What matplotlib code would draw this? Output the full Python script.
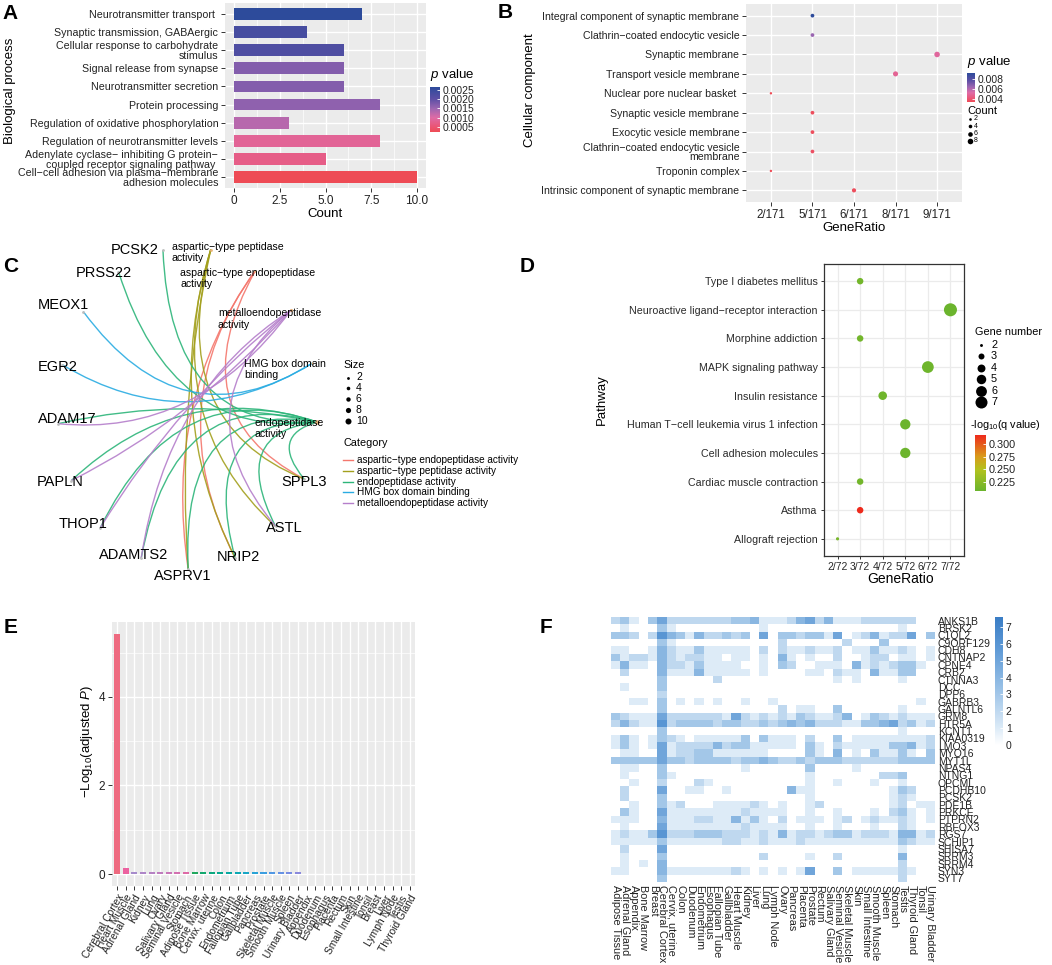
import numpy as np
import matplotlib
matplotlib.use('Agg')
import matplotlib as mpl
import matplotlib.pyplot as plt
from matplotlib.colors import LinearSegmentedColormap, Normalize
from matplotlib.path import Path
from matplotlib.patches import PathPatch

plt.rcParams['font.family'] = ['Liberation Sans', 'DejaVu Sans']
plt.rcParams['mathtext.fontset'] = 'custom'
plt.rcParams['mathtext.rm'] = 'Liberation Sans'
plt.rcParams['mathtext.it'] = 'Liberation Sans:italic'
plt.rcParams['mathtext.bf'] = 'Liberation Sans:bold'

# ======================= DATA =======================
# --- A: GO biological process ---
bp_terms = ["Neurotransmitter transport ", "Synaptic transmission, GABAergic",
            "Cellular response to carbohydrate\nstimulus", "Signal release from synapse",
            "Neurotransmitter secretion", "Protein processing",
            "Regulation of oxidative phosphorylation", "Regulation of neurotransmitter levels",
            "Adenylate cyclase\u2212 inhibiting G protein\u2212\ncoupled receptor signaling pathway ",
            "Cell\u2212cell adhesion via plasma\u2212membrane\nadhesion molecules"]
bp_count = [7, 4, 6, 6, 6, 8, 3, 8, 5, 10]
bp_pvalue = [0.00266, 0.00230, 0.00220, 0.00170, 0.00170, 0.00160, 0.00130, 0.00085, 0.00070, 0.00023]
bp_xticks = [0, 2.5, 5.0, 7.5, 10.0]
bp_xticklabels = ["0", "2.5", "5.0", "7.5", "10.0"]
bp_cbar_ticks = [0.0005, 0.0010, 0.0015, 0.0020, 0.0025]

# --- B: GO cellular component ---
cc_terms = ["Integral component of synaptic membrane", "Clathrin\u2212coated endocytic vesicle",
            "Synaptic membrane", "Transport vesicle membrane", "Nuclear pore nuclear basket ",
            "Synaptic vesicle membrane", "Exocytic vesicle membrane",
            "Clathrin\u2212coated endocytic vesicle\nmembrane", "Troponin complex",
            "Intrinsic component of synaptic membrane"]
cc_count = [5, 5, 9, 8, 2, 5, 5, 5, 2, 6]
cc_pvalue = [0.0091, 0.0064, 0.0050, 0.0048, 0.0034, 0.0036, 0.0036, 0.0037, 0.0034, 0.0036]
cc_total = 171
cc_cbar_ticks = [0.004, 0.006, 0.008]
cc_size_legend = [2, 4, 6, 8]

# --- C: gene-concept network ---
cn_categories = ["aspartic-type endopeptidase activity", "aspartic-type peptidase activity",
                 "endopeptidase activity", "HMG box domain binding", "metalloendopeptidase activity"]
cn_category_genes = {
    "aspartic-type endopeptidase activity": ["ASPRV1", "NRIP2", "SPPL3"],
    "aspartic-type peptidase activity": ["ASPRV1", "NRIP2", "SPPL3", "ASTL"],
    "endopeptidase activity": ["PCSK2", "PRSS22", "ADAM17", "PAPLN", "THOP1", "ADAMTS2",
                               "ASPRV1", "NRIP2", "ASTL", "SPPL3"],
    "HMG box domain binding": ["MEOX1", "EGR2"],
    "metalloendopeptidase activity": ["ADAM17", "PAPLN", "THOP1", "ADAMTS2", "ASTL"],
}
# node order around the circle (counter-clockwise)
cn_node_order = ["endopeptidase activity", "HMG box domain binding", "metalloendopeptidase activity",
                 "aspartic-type endopeptidase activity", "aspartic-type peptidase activity",
                 "PCSK2", "PRSS22", "MEOX1", "EGR2", "ADAM17", "PAPLN", "THOP1", "ADAMTS2",
                 "ASPRV1", "NRIP2", "ASTL", "SPPL3"]
cn_size_legend = [2, 4, 6, 8, 10]

# --- D: KEGG ---
kegg_terms = ["Type I diabetes mellitus", "Neuroactive ligand\u2212receptor interaction",
              "Morphine addiction", "MAPK signaling pathway", "Insulin resistance",
              "Human T\u2212cell leukemia virus 1 infection", "Cell adhesion molecules",
              "Cardiac muscle contraction", "Asthma", "Allograft rejection"]
kegg_count = [3, 7, 3, 6, 4, 5, 5, 3, 3, 2]
kegg_qlog = [0.212, 0.207, 0.212, 0.209, 0.210, 0.208, 0.208, 0.212, 0.318, 0.214]
kegg_total = 72
kegg_cbar_ticks = [0.225, 0.250, 0.275, 0.300]
kegg_size_legend = [2, 3, 4, 5, 6, 7]

# --- E: tissue enrichment ---
tissue_e = ["Cerebral Cortex", "Heart Muscle", "Adrenal Gland", "Kidney", "Lung", "Ovary",
            "Salivary Gland", "Seminal Vesicle", "Stomach", "Adipose Tissue", "Bone Marrow",
            "Cervix, uterine", "Colon", "Endometrium", "Fallopian Tube", "Gallbladder",
            "Pancreas", "Prostate", "Skeletal Muscle", "Smooth Muscle", "Spleen",
            "Urinary Bladder", "Appendix", "Duodenum", "Esophagus", "Placenta", "Rectum",
            "Skin", "Small Intestine", "Tonsil", "Breast", "Liver", "Lymph Node", "Testis",
            "Thyroid Gland"]
tissue_logp = [5.42, 0.13, 0.055, 0.055, 0.055, 0.055, 0.055, 0.055, 0.055,
               0.04, 0.04, 0.04, 0.04, 0.04, 0.04, 0.04, 0.04, 0.04, 0.04, 0.04, 0.04, 0.04,
               0.006, 0.006, 0.006, 0.006, 0.006, 0.006, 0.006, 0.006, 0.006, 0.006, 0.006,
               0.006, 0.006]
tissue_colors = ["#EE6A80", "#EC62A0",
                 "#A68BCB", "#AE86C8", "#B681C4", "#BF7CBE", "#C876B8", "#D370B0", "#DE6AA6",
                 "#22A85E", "#14A86E", "#0CA87F", "#08A890", "#08A8A2", "#0CA8B4", "#18A6C6",
                 "#28A3D6", "#3C9EE0", "#5298E4", "#6692E4", "#788DE2", "#8A89DC",
                 "#F3EFD9", "#F3EFD9", "#F3EFD9", "#F3EFD9", "#F3EFD9", "#F3EFD9", "#F3EFD9",
                 "#F3EFD9", "#F3EFD9", "#F3EFD9", "#F3EFD9", "#F3EFD9", "#F3EFD9"]
tissue_yticks = [0, 2, 4]

# --- F: expression heatmap ---
tissue_f = ["Adipose Tissue", "Adrenal Gland", "Appendix", "Bone Marrow", "Breast",
            "Cerebral Cortex", "Cervix, uterine", "Colon", "Duodenum", "Endometrium",
            "Esophagus", "Fallopian Tube", "Gallbladder", "Heart Muscle", "Kidney", "Liver",
            "Lung", "Lymph Node", "Ovary", "Pancreas", "Placenta", "Prostate", "Rectum",
            "Salivary Gland", "Seminal Vesicle", "Skeletal Muscle", "Skin", "Small Intestine",
            "Smooth Muscle", "Spleen", "Stomach", "Testis", "Thyroid Gland", "Tonsil",
            "Urinary Bladder"]
heat_genes = ["ANKS1B", "BRSK2", "C1QL2", "C9ORF129", "CDH8", "CNTNAP2", "CPNE4", "CRB2",
              "CTNNA3", "DCC", "DPP6", "GABRB3", "GALNTL6", "GRM8", "HTR5A", "KCNT1",
              "KIAA0319", "LMO3", "MYO16", "MYT1L", "NPAS4", "NTNG1", "OPCML", "PCDHB10",
              "PCSK2", "PDE1B", "PRKCE", "PTPRN2", "RBFOX3", "RGS7", "SCHIP1", "SHISA7",
              "SRRM3", "SRRM4", "SYN3", "SYT7"]
heat_rows = [
    "23103 52222 22233 41112 45241 11222 22200",
    "01000 31000 00000 01000 00000 00000 01000",
    "33202 64314 22323 05033 23315 01241 22503",
    "00000 31000 00000 00020 00000 20003 00000",
    "11001 42113 11111 02021 12112 01131 12101",
    "31221 42122 11011 01041 01002 00122 01101",
    "14110 42213 11110 01032 00111 04121 23310",
    "02000 41114 11111 01000 01102 11041 13300",
    "00000 30000 02000 00000 00001 01000 01000",
    "01000 30000 00000 00000 00000 00000 00000",
    "00000 20000 00000 00000 00000 00000 00000",
    "00110 30101 01001 00100 00000 00000 00010",
    "00000 30000 00000 00020 11003 00000 01000",
    "32111 52222 22152 12121 32112 40132 12111",
    "24211 62333 32332 23234 34222 11334 52312",
    "00000 30000 00000 00000 00000 00000 01000",
    "13101 32101 11113 03111 02003 01111 11112",
    "13101 51222 24233 11111 03102 11111 33412",
    "01100 51223 31111 11000 03104 01031 13103",
    "33333 53323 33323 34322 32333 22222 23333",
    "01100 30000 00001 00000 03000 01000 00000",
    "01000 31000 00000 00000 01000 00002 23000",
    "00100 20002 10000 00000 01001 00010 01000",
    "02000 50011 00100 00004 11000 00000 13200",
    "02000 30000 00000 00000 01000 00000 12100",
    "00100 31200 01111 21010 01200 00000 12011",
    "03100 51111 11112 11110 01001 00010 23101",
    "11100 41112 21141 31020 11101 20121 12101",
    "01000 51111 11112 11110 01001 00010 02100",
    "12113 62223 33222 12141 22123 31222 14412",
    "11111 31111 11221 12111 21111 11111 13211",
    "02000 50000 00000 00000 00000 00000 01000",
    "01000 30000 00000 02000 01002 00000 04000",
    "01010 40000 00000 00000 00000 00000 02000",
    "11000 41111 11121 01010 15003 01111 12100",
    "00000 30000 00000 00000 00000 00000 02000",
]
heat_cbar_ticks = [0, 1, 2, 3, 4, 5, 6, 7]

# ======================= FIGURE =======================
W, H = 1052, 965
fig = plt.figure(figsize=(W / 100, H / 100), dpi=100)


def px_axes(l, t, r, b, **kw):
    return fig.add_axes([l / W, 1 - b / H, (r - l) / W, (b - t) / H], **kw)


ov = px_axes(0, 0, W, H)
ov.set_xlim(0, W)
ov.set_ylim(H, 0)
ov.axis('off')
ov.set_zorder(20)

TXT = '#222222'


def gg_style(ax):
    ax.set_facecolor('#EBEBEB')
    for s in ax.spines.values():
        s.set_visible(False)
    ax.set_axisbelow(True)
    ax.grid(True, which='major', color='white', lw=1.0)
    ax.tick_params(axis='both', which='major', length=2.8, width=0.7, color='#333333',
                   labelcolor=TXT, pad=2)
    ax.tick_params(which='minor', length=0)


def colorbar(rect, cmap, norm, ticks, labels, fs=7.5):
    cax = px_axes(*rect)
    cb = fig.colorbar(mpl.cm.ScalarMappable(norm=norm, cmap=cmap), cax=cax)
    cb.outline.set_visible(False)
    cb.set_ticks(ticks)
    cb.set_ticklabels(labels)
    cax.tick_params(axis='y', length=2, width=0.6, color='white', direction='in',
                    labelsize=fs, labelcolor=TXT, pad=2)
    return cax


letter_kw = dict(fontsize=15, fontweight='bold', ha='left', va='baseline', color='black')
ov.text(2, 19, 'A', **letter_kw)
ov.text(498, 18, 'B', **letter_kw)
ov.text(3, 272, 'C', **letter_kw)
ov.text(520, 272, 'D', **letter_kw)
ov.text(4, 633, 'E', **letter_kw)
ov.text(540, 633, 'F', **letter_kw)

# p-value colormap (low p = red, high p = blue)
cmapP = LinearSegmentedColormap.from_list(
    'pval', [(0, '#EE4B55'), (0.12, '#EA5575'), (0.32, '#DE6BA6'), (0.52, '#9C66B1'),
             (0.73, '#5E4FA5'), (1, '#2D4B9B')])

# ---------------- A ----------------
axA = px_axes(225, 3, 426, 188)
gg_style(axA)
nA = len(bp_terms)
yA = np.arange(nA)[::-1]
normA = Normalize(min(bp_pvalue), max(bp_pvalue))
axA.barh(yA, bp_count, height=0.64, color=cmapP(normA(np.array(bp_pvalue))), zorder=3)
axA.set_xlim(-0.5, 10.5)
axA.set_ylim(-0.6, nA - 0.4)
axA.set_yticks(yA)
axA.set_yticklabels(bp_terms, fontsize=7.7, linespacing=0.95)
axA.set_xticks(bp_xticks)
axA.set_xticklabels(bp_xticklabels, fontsize=8.5)
axA.set_xticks([1.25, 3.75, 6.25, 8.75], minor=True)
axA.grid(True, which='minor', axis='x', color='white', lw=0.5)
axA.set_xlabel('Count', fontsize=9.5, labelpad=1, color='black')
ov.text(10, 91, 'Biological process', rotation=90, fontsize=9.5, ha='center', va='center')
ov.text(430, 75, '$\\it{p}$ value', fontsize=9.5, ha='left', va='center')
colorbar((430, 87, 440, 132), cmapP, normA, bp_cbar_ticks,
         ['%.4f' % t for t in bp_cbar_ticks], fs=7.5)

# ---------------- B ----------------
axB = px_axes(746, 4, 962, 202)
gg_style(axB)
nB = len(cc_terms)
yB = np.arange(nB)[::-1]
cc_levels = sorted(set(cc_count))
xB = [cc_levels.index(c) for c in cc_count]
normB = Normalize(min(cc_pvalue), max(cc_pvalue))
sizeB = lambda c: (0.72 * (1.5 + 0.45 * np.asarray(c, dtype=float))) ** 2
axB.scatter(xB, yB, s=sizeB(cc_count), c=cmapP(normB(np.array(cc_pvalue))), zorder=3, lw=0)
axB.set_xlim(-0.6, len(cc_levels) - 0.4)
axB.set_ylim(-0.6, nB - 0.4)
axB.set_yticks(yB)
axB.set_yticklabels(cc_terms, fontsize=7.6, linespacing=0.95)
axB.set_xticks(range(len(cc_levels)))
axB.set_xticklabels(['%d/%d' % (c, cc_total) for c in cc_levels], fontsize=8.3)
axB.set_xlabel('GeneRatio', fontsize=9.5, labelpad=1, color='black')
ov.text(530, 90, 'Cellular component', rotation=90, fontsize=9.5, ha='center', va='center')
ov.text(967, 62, '$\\it{p}$ value', fontsize=9.5, ha='left', va='center')
colorbar((967, 73, 975, 102), cmapP, normB, cc_cbar_ticks,
         ['%.3f' % t for t in cc_cbar_ticks], fs=7.5)
ov.text(967, 111, 'Count', fontsize=8, ha='left', va='center')
for i, c in enumerate(cc_size_legend):
    yy = 119 + i * 7.3
    ov.scatter([970], [yy], s=sizeB(c) * 1.2, color='black', lw=0)
    ov.text(974, yy, str(c), fontsize=5, ha='left', va='center')

# ---------------- C ----------------
cat_colors = ['#F4776D', '#A3A01E', '#2DB57A', '#2AACE2', '#B57FCB']
cat_display = {
    "endopeptidase activity": "endopeptidase\nactivity",
    "HMG box domain binding": "HMG box domain\nbinding",
    "metalloendopeptidase activity": "metalloendopeptidase\nactivity",
    "aspartic-type endopeptidase activity": "aspartic\u2212type endopeptidase\nactivity",
    "aspartic-type peptidase activity": "aspartic\u2212type peptidase\nactivity",
}
# label offsets in pixels (style)
label_off = {
    "endopeptidase activity": (-63, 6.5), "HMG box domain binding": (-68, 6.4),
    "metalloendopeptidase activity": (-73, 8.7), "aspartic-type endopeptidase activity": (-75, 7.8),
    "aspartic-type peptidase activity": (-39, 2.9),
    "PCSK2": (-28, 0), "PRSS22": (-15, 1), "MEOX1": (-20, -7), "EGR2": (-5, 2),
    "ADAM17": (9, -5), "PAPLN": (-11, 1), "THOP1": (-17, -3.5), "ADAMTS2": (-8, -3),
    "ASPRV1": (-5, 7), "NRIP2": (3, -1), "ASTL": (8.5, 1.5), "SPPL3": (0, 3),
}
cxC, cyC, aC, bC = 187.5, 408.0, 130.0, 161.0
nC = len(cn_node_order)
theta = {nm: np.deg2rad(-5) + 2 * np.pi * k / nC for k, nm in enumerate(cn_node_order)}


def to_px(u, v):
    return (cxC + aC * u, cyC - bC * v)


for ci, cat in enumerate(cn_categories):
    for g in cn_category_genes[cat]:
        t0, t2 = theta[g], theta[cat]
        d = (t2 - t0 + np.pi) % (2 * np.pi) - np.pi
        alpha = abs(d) / 2
        tm = t0 + d / 2
        rc = 2 * (1 - np.sin(alpha)) - np.cos(alpha)
        p0 = to_px(np.cos(t0), np.sin(t0))
        p1 = to_px(rc * np.cos(tm), rc * np.sin(tm))
        p2 = to_px(np.cos(t2), np.sin(t2))
        path = Path([p0, p1, p2], [Path.MOVETO, Path.CURVE3, Path.CURVE3])
        ov.add_patch(PathPatch(path, facecolor='none', edgecolor=cat_colors[ci], lw=1.0,
                               alpha=0.9, zorder=2))

sizeC = lambda n: (0.72 * (2.0 + 0.4 * n)) ** 2
for nm in cn_node_order:
    x, y = to_px(np.cos(theta[nm]), np.sin(theta[nm]))
    dx, dy = label_off[nm]
    if nm in cat_display:
        ng = len(cn_category_genes[nm])
        ov.scatter([x], [y], s=sizeC(ng) * 0.6, color='#E9B37A', lw=0, zorder=3)
        ov.text(x + dx, y + dy, cat_display[nm], fontsize=7.6, ha='left', va='center',
                linespacing=1.15, zorder=4)
    else:
        ov.scatter([x], [y], s=4, color='#BDBDBD', lw=0, zorder=3)
        ov.text(x + dx, y + dy, nm, fontsize=10.5, ha='center', va='center', zorder=4)

ov.text(343, 365, 'Size', fontsize=7.8, ha='left', va='center')
for i, s in enumerate(cn_size_legend):
    yy = 377.5 + i * 10.8
    ov.scatter([348], [yy], s=sizeC(s), color='black', lw=0)
    ov.text(356, yy, str(s), fontsize=7.5, ha='left', va='center')
ov.text(343, 443, 'Category', fontsize=7.8, ha='left', va='center')
for i, cat in enumerate(cn_categories):
    yy = 460 + i * 10.8
    ov.plot([343, 353], [yy, yy], color=cat_colors[i], lw=1.0)
    ov.text(357, yy, cat.replace('-', '\u2212'), fontsize=7.2, ha='left', va='center')

# ---------------- D ----------------
axD = px_axes(824, 264, 964, 556)
axD.set_facecolor('white')
for s in axD.spines.values():
    s.set_color('#333333')
    s.set_linewidth(0.9)
axD.set_axisbelow(True)
axD.grid(True, color='#EBEBEB', lw=0.9)
cmapQ = LinearSegmentedColormap.from_list(
    'qv', [(0, '#6BB42D'), (0.38, '#B2C21E'), (0.62, '#D99A1B'), (1, '#EE2A1C')])
normD = Normalize(0.207, 0.318)
nD = len(kegg_terms)
yD = np.arange(nD)[::-1]
kegg_levels = sorted(set(kegg_count))
xD = [kegg_levels.index(c) for c in kegg_count]
sizeD = lambda n: 0.5184 * (32 * np.asarray(n, dtype=float) - 54)
axD.scatter(xD, yD, s=sizeD(kegg_count), c=cmapQ(normD(np.array(kegg_qlog))), zorder=3, lw=0)
axD.set_xlim(-0.6, len(kegg_levels) - 0.4)
axD.set_ylim(-0.6, nD - 0.4)
axD.set_yticks(yD)
axD.set_yticklabels(kegg_terms, fontsize=7.7)
axD.set_xticks(range(len(kegg_levels)))
axD.set_xticklabels(['%d/%d' % (c, kegg_total) for c in kegg_levels], fontsize=7.5)
axD.tick_params(length=2.5, width=0.7, color='#333333', labelcolor='#2a2a2a', pad=2)
ov.text(901, 579, 'GeneRatio', fontsize=10, ha='center', va='center')
ov.text(602, 400, 'Pathway', rotation=90, fontsize=9.5, ha='center', va='center')
ov.text(975, 332, 'Gene number', fontsize=7.8, ha='left', va='center')
for i, n in enumerate(kegg_size_legend):
    yy = 345 + i * 11.4
    ov.scatter([981], [yy], s=sizeD(n) * 0.85, color='black', lw=0)
    ov.text(991, yy, str(n), fontsize=7.8, ha='left', va='center')
ov.text(970, 425, '-log$_{10}$(q value)', fontsize=7.8, ha='left', va='center')
colorbar((975, 435, 986, 491), cmapQ, normD, kegg_cbar_ticks,
         ['%.3f' % t for t in kegg_cbar_ticks], fs=7.8)

# ---------------- E ----------------
axE = px_axes(112, 622, 415, 886)
gg_style(axE)
nE = len(tissue_e)
axE.bar(np.arange(nE), tissue_logp, width=0.7, color=tissue_colors, zorder=3)
axE.set_xlim(-0.6, nE - 0.4)
axE.set_ylim(-0.27, 5.69)
axE.set_yticks(tissue_yticks)
axE.set_yticklabels([str(t) for t in tissue_yticks], fontsize=8.5)
axE.set_yticks([1, 3, 5], minor=True)
axE.grid(True, which='minor', axis='y', color='white', lw=0.5)
axE.set_xticks(np.arange(nE))
axE.set_xticklabels(tissue_e, fontsize=7.4, rotation=60, ha='right', va='top',
                    rotation_mode='anchor')
ov.text(87, 741, '\u2212Log$_{10}$(adjusted $\\it{P}$)', rotation=90, fontsize=9.5,
        ha='center', va='center')

# ---------------- F ----------------
heat = np.array([[float(ch) for ch in r.replace(' ', '')] for r in heat_rows])
cmapF = LinearSegmentedColormap.from_list(
    'bl', [(0, '#FFFFFF'), (0.15, '#D8E8F6'), (0.45, '#98C0E6'), (0.75, '#5F9AD6'),
           (1, '#3A7DC5')])
normF = Normalize(0, 7.6)
axF = px_axes(611, 617, 935, 882)
axF.imshow(heat, cmap=cmapF, norm=normF, aspect='auto', interpolation='nearest')
for s in axF.spines.values():
    s.set_visible(False)
axF.yaxis.tick_right()
axF.set_yticks(np.arange(len(heat_genes)))
axF.set_yticklabels(heat_genes, fontsize=7.5)
axF.set_xticks(np.arange(len(tissue_f)))
axF.set_xticklabels(tissue_f, fontsize=7.8, rotation=270, ha='center', va='top')
axF.tick_params(length=0, pad=2, labelcolor=TXT)
colorbar((995, 617, 1003, 745), cmapF, normF, heat_cbar_ticks,
         [str(t) for t in heat_cbar_ticks], fs=7.5)

fig.savefig('out.png', dpi=100)
